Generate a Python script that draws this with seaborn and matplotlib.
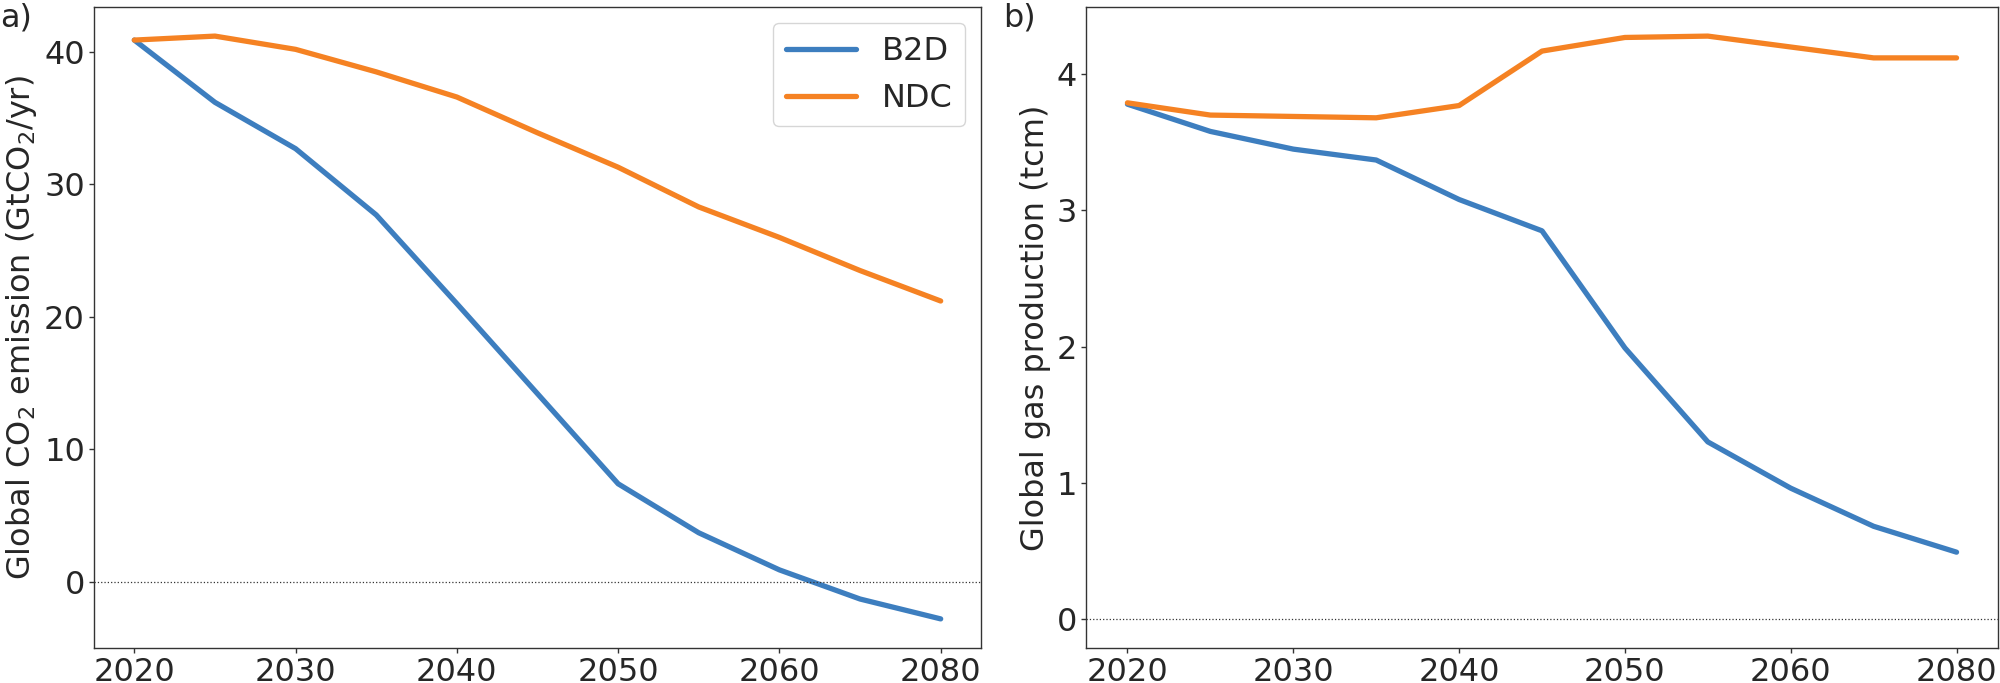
import matplotlib
matplotlib.use("Agg")
import matplotlib.pyplot as plt
import seaborn as sns
import pandas as pd

years = ["2020", "2025", "2030", "2035", "2040", "2045", "2050", "2055", "2060", "2065", "2080"]
tick_years = ["2020", "2030", "2040", "2050", "2060", "2080"]
scenarios = ["B2D", "NDC"]

co2_b2d = [40.9, 36.2, 32.7, 27.7, 21.0, 14.2, 7.4, 3.7, 0.9, -1.3, -2.8]
co2_ndc = [40.9, 41.2, 40.2, 38.5, 36.6, 33.9, 31.3, 28.3, 26.0, 23.5, 21.2]

gas_b2d = [3.78, 3.58, 3.45, 3.37, 3.08, 2.85, 1.99, 1.30, 0.96, 0.68, 0.49]
gas_ndc = [3.79, 3.70, 3.69, 3.68, 3.77, 4.17, 4.27, 4.28, 4.20, 4.12, 4.12]

colors = {"B2D": "#3d7ebf", "NDC": "#f58223"}

sns.set_style("ticks")
plt.rcParams["font.family"] = ["DejaVu Sans"]
plt.rcParams["axes.edgecolor"] = "#333333"

def make_df(b2d, ndc):
    return pd.DataFrame({
        "year": years * 2,
        "value": list(b2d) + list(ndc),
        "scenario": ["B2D"] * len(years) + ["NDC"] * len(years),
    })

fig = plt.figure(figsize=(20, 6.83), dpi=100)
ax1 = fig.add_axes([0.047, 0.0512, 0.4435, 0.9386])
ax2 = fig.add_axes([0.543, 0.0512, 0.456, 0.9386])

fs = 23
lw = 3.8
for ax, b2d, ndc, ylabel in [
    (ax1, co2_b2d, co2_ndc, "Global CO$_2$ emission (GtCO$_2$/yr)"),
    (ax2, gas_b2d, gas_ndc, "Global gas production (tcm)"),
]:
    df = make_df(b2d, ndc)
    sns.lineplot(data=df, x="year", y="value", hue="scenario", palette=colors,
                 hue_order=scenarios, sort=False, linewidth=lw, ax=ax,
                 legend=(ax is ax1))
    ax.axhline(0, color="#333333", linestyle=":", linewidth=0.9)
    ax.margins(x=0.05, y=0.05)
    ax.set_xticks([years.index(t) for t in tick_years])
    ax.set_xticklabels(tick_years)
    ax.set_xlabel("")
    ax.set_ylabel(ylabel, fontsize=fs)
    ax.tick_params(labelsize=fs, length=3.5, width=1, color="#333333", pad=3.0)
    for s in ax.spines.values():
        s.set_visible(True)
        s.set_linewidth(1.0)

fig.text(0.0, 0.997, "a)", fontsize=fs, ha="left", va="top")
fig.text(0.5015, 0.997, "b)", fontsize=fs, ha="left", va="top")

ax1.set_yticks([0, 10, 20, 30, 40])
ax2.set_yticks([0, 1, 2, 3, 4])
leg = ax1.legend(loc="upper right", fontsize=fs, handlelength=2.2,
                 handletextpad=0.8)
for line in leg.get_lines():
    line.set_linewidth(lw)

fig.savefig("out.png", dpi=100)
